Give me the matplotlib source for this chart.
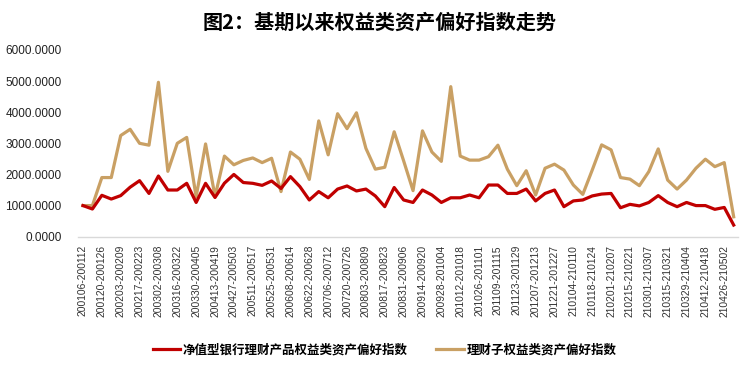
import matplotlib
matplotlib.use("Agg")
import numpy as np
import matplotlib.pyplot as plt

plt.rcParams["font.family"] = ["Liberation Sans", "Noto Sans CJK SC", "DejaVu Sans"]

# weekly index values, 70 weeks starting 200106
bank_nav = [1000, 890, 1330, 1210, 1320, 1590, 1800, 1390, 1950, 1500,
            1500, 1715, 1100, 1715, 1260, 1720, 2000, 1740, 1715, 1650,
            1790, 1550, 1930, 1610, 1180, 1450, 1250, 1530, 1630, 1470,
            1530, 1310, 965, 1580, 1180, 1100, 1500, 1340, 1100, 1250,
            1250, 1340, 1250, 1660, 1660, 1390, 1390, 1530, 1150, 1390,
            1500, 965, 1150, 1180, 1310, 1370, 1390, 930, 1040, 990,
            1100, 1320, 1100, 965, 1100, 1000, 1000, 880, 940, 375]

wm_sub = [1000, 1000, 1900, 1900, 3250, 3450, 3000, 2940, 4960, 2100,
          3000, 3190, 1280, 2980, 1290, 2590, 2310, 2450, 2530, 2380,
          2520, 1450, 2720, 2490, 1840, 3720, 2630, 3950, 3470, 3980,
          2840, 2170, 2230, 3370, 2440, 1480, 3400, 2720, 2420, 4820,
          2590, 2460, 2460, 2570, 2940, 2170, 1640, 2120, 1340, 2200,
          2330, 2140, 1660, 1360, 2140, 2950, 2790, 1900, 1850, 1640,
          2090, 2820, 1820, 1530, 1820, 2200, 2490, 2250, 2380, 640]

# labels shown on every other week
week_labels = [
    "200106-200112", "200120-200126", "200203-200209", "200217-200223",
    "200302-200308", "200316-200322", "200330-200405", "200413-200419",
    "200427-200503", "200511-200517", "200525-200531", "200608-200614",
    "200622-200628", "200706-200712", "200720-200726", "200803-200809",
    "200817-200823", "200831-200906", "200914-200920", "200928-201004",
    "201012-201018", "201026-201101", "201109-201115", "201123-201129",
    "201207-201213", "201221-201227", "210104-210110", "210118-210124",
    "210201-210207", "210215-210221", "210301-210307", "210315-210321",
    "210329-210404", "210412-210418", "210426-210502",
]

RED = "#C00000"
TAN = "#C9A064"

fig = plt.figure(figsize=(7.54, 3.67), dpi=100)
ax = fig.add_axes([0.1038, 0.355, 0.8755, 0.509])

x = np.arange(len(bank_nav))
ax.plot(x, bank_nav, color=RED, lw=2.3, label="净值型银行理财产品权益类资产偏好指数", zorder=3)
ax.plot(x, wm_sub, color=TAN, lw=2.3, label="理财子权益类资产偏好指数", zorder=2)

ax.set_xlim(-0.5, len(x) - 0.5)
ax.set_ylim(0, 6000)
ax.set_yticks(np.arange(0, 6001, 1000))
ax.set_yticklabels([f"{v:.4f}" for v in range(0, 6001, 1000)], fontsize=8.5, color="#222222")
ax.set_xticks(x[::2])
ax.set_xticklabels(week_labels, rotation=90, fontsize=7.4, color="#333333")
ax.tick_params(axis="both", length=0)
ax.tick_params(axis="x", pad=6)
ax.tick_params(axis="y", pad=12)

for s in ["left", "right", "top"]:
    ax.spines[s].set_visible(False)
ax.spines["bottom"].set_color("#D9D9D9")
ax.spines["bottom"].set_linewidth(1.0)

fig.text(0.503, 0.94, "图2：基期以来权益类资产偏好指数走势", ha="center", va="center",
         fontsize=14.5, fontweight="bold", family=["Noto Sans CJK SC", "DejaVu Sans"])

fig.legend(loc="center", bbox_to_anchor=(0.51, 1 - 350 / 367), ncol=2, frameon=False,
           handlelength=2.2, handletextpad=0.2, columnspacing=2.3,
           prop={"family": ["Noto Sans CJK SC", "DejaVu Sans"], "weight": "bold", "size": 9})

fig.savefig("out.png", dpi=100)
